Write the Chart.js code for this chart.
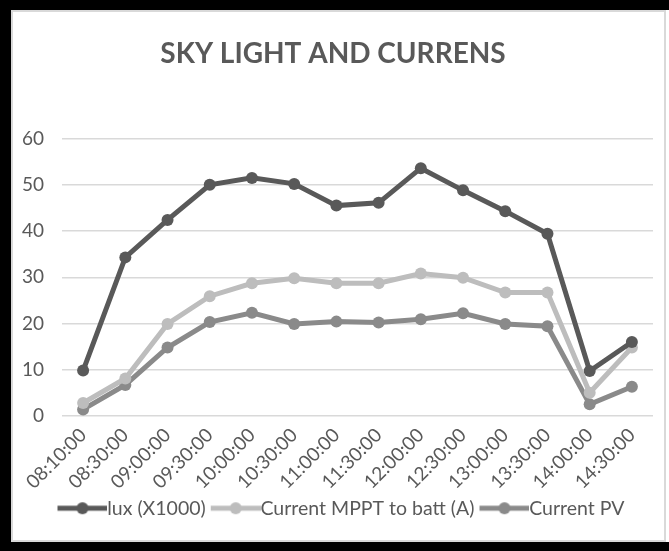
<!DOCTYPE html>
<html>
<head>
<meta charset="utf-8">
<script src="https://cdn.jsdelivr.net/npm/chart.js@4.4.0/dist/chart.umd.min.js"></script>
<style>
  html, body { margin: 0; padding: 0; background: #fff; }
  #frame {
    position: absolute; left: 0; top: 0; width: 669px; height: 551px;
    box-sizing: border-box;
    border-top: 10px solid #000; border-left: 11px solid #000; border-bottom: 9px solid #000;
  }
  #box {
    position: absolute; left: 11px; top: 10px; width: 655px; height: 532px;
    box-sizing: border-box; border: 2px solid #d9d9d9; background: #fff;
  }
  canvas { display: block; }
</style>
</head>
<body>
<div id="frame"></div>
<div id="box"><canvas id="grafico" width="651" height="528"></canvas></div>
<script>
        // Datos
        const horas = ['08:10:00', '08:30:00', '09:00:00', '09:30:00', '10:00:00', '10:30:00', '11:00:00',
                       '11:30:00', '12:00:00', '12:30:00', '13:00:00', '13:30:00', '14:00:00', '14:30:00'];
        const lux = [9.8, 34.3, 42.4, 50.0, 51.5, 50.2, 45.5, 46.1, 53.6, 48.8, 44.3, 39.4, 9.7, 16.0];
        const corrienteMPPT = [2.8, 8.1, 19.9, 25.9, 28.7, 29.8, 28.7, 28.7, 30.8, 29.9, 26.7, 26.7, 5.0, 14.8];
        const corrientePV = [1.4, 6.7, 14.8, 20.3, 22.3, 19.9, 20.4, 20.2, 20.9, 22.2, 19.9, 19.4, 2.5, 6.3];
        const yTicks = [0, 10, 20, 30, 40, 50, 60];

        const colores = ['#595959', '#bdbdbd', '#8a8a8a'];
        const texto = '#595959';

        // icono de leyenda: linea con punto (desplazado a la derecha para pegar el texto)
        function iconoLeyenda(color) {
            const c = document.createElement('canvas');
            c.width = 60; c.height = 14;
            const g = c.getContext('2d');
            g.strokeStyle = color; g.lineWidth = 5;
            g.beginPath(); g.moveTo(10, 7); g.lineTo(60, 7); g.stroke();
            g.fillStyle = color;
            g.beginPath(); g.arc(35, 7, 6, 0, Math.PI * 2); g.fill();
            return c;
        }
        const iconos = colores.map(iconoLeyenda);

        function serie(label, data, color) {
            return {
                label: label,
                data: data,
                borderColor: color,
                backgroundColor: color,
                borderWidth: 5,
                pointRadius: 6,
                pointBorderWidth: 0,
                pointBackgroundColor: color,
                tension: 0
            };
        }

        const chartData = {
            labels: horas,
            datasets: [
                serie('lux (X1000)', lux, colores[0]),
                serie('Current MPPT to batt (A)', corrienteMPPT, colores[1]),
                serie('Current PV', corrientePV, colores[2])
            ]
        };

        // correr la leyenda un poco a la derecha
        const moverLeyenda = {
            id: 'moverLeyenda',
            afterLayout(chart) {
                chart.legend.left += 8;
                chart.legend.right += 8;
            }
        };

        const chartOptions = {
            responsive: false,
            animation: false,
            devicePixelRatio: 1,
            layout: { padding: { left: 0, right: 11, top: 0, bottom: 12 } },
            plugins: {
                title: {
                    display: true,
                    text: 'SKY LIGHT AND CURRENS',
                    color: texto,
                    font: { family: 'Lato', size: 28, weight: 'bold' },
                    padding: { top: 25, bottom: 68 }
                },
                legend: {
                    position: 'bottom',
                    labels: {
                        color: texto,
                        font: { family: 'Lato', size: 19.5 },
                        usePointStyle: true,
                        pointStyleWidth: 40,
                        padding: 5,
                        generateLabels(chart) {
                            const items = Chart.defaults.plugins.legend.labels.generateLabels(chart);
                            items.forEach((it, i) => { it.pointStyle = iconos[i]; });
                            return items;
                        }
                    }
                },
                tooltip: { enabled: false }
            },
            scales: {
                x: {
                    offset: true,
                    grid: { display: false },
                    border: { display: false },
                    ticks: {
                        color: texto,
                        font: { family: 'Lato', size: 19 },
                        minRotation: 45, maxRotation: 45,
                        autoSkip: false,
                        padding: 0
                    }
                },
                y: {
                    min: 0, max: 60,
                    afterBuildTicks(axis) { axis.ticks = yTicks.map(v => ({ value: v })); },
                    afterFit(axis) { axis.width = 49; },
                    grid: { color: '#d9d9d9', lineWidth: 1.5, drawTicks: false },
                    border: { display: false },
                    ticks: {
                        color: texto,
                        font: { family: 'Lato', size: 19 },
                        padding: 18
                    }
                }
            }
        };

        const canvas = document.getElementById('grafico');
        const ctx = canvas.getContext('2d');
        const chart = new Chart(ctx, {
            type: 'line',
            data: chartData,
            options: chartOptions,
            plugins: [moverLeyenda]
        });
</script>
</body>
</html>
